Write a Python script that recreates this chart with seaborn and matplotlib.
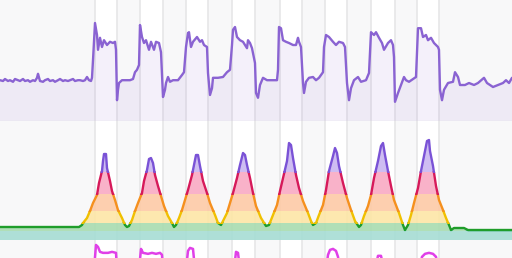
import matplotlib
matplotlib.use("Agg")
import matplotlib.pyplot as plt
import seaborn as sns
import pandas as pd
from matplotlib.patches import Rectangle

# ---------------- data ----------------
# interval (work) periods, in sample units (~8 s each)
work_start = [94.5, 139.5, 186, 232, 279.5, 325, 370.5, 417]
work_end = [116.5, 163, 208, 255, 302, 347, 394.5, 439]
t_end = 512

# power (W)
power_t = [0, 3, 5, 8, 10, 13, 15, 18, 20, 23, 25, 28, 30, 33, 35, 37, 38, 40, 43, 45,
           48, 50, 53, 55, 58, 60, 63, 65, 68, 70, 73, 75, 78, 80, 83, 85, 87, 89, 91, 92,
           93, 95, 97, 98, 100, 102, 104, 107, 110, 113, 115, 116, 117, 118, 119, 122, 126, 130, 133, 135,
           137, 139, 140, 142, 144, 146, 149, 151, 154, 156, 159, 161, 163, 165, 166, 168, 170, 173, 178, 182,
           184, 186, 188, 189, 191, 193, 197, 200, 202, 204, 207, 208, 210, 212, 213, 218, 223, 227, 230, 232,
           233, 235, 237, 240, 243, 247, 248, 250, 252, 255, 256, 258, 260, 263, 267, 272, 277, 278, 279, 281,
           283, 286, 289, 293, 296, 298, 299, 301, 303, 304, 306, 309, 313, 316, 319, 323, 324, 326, 329, 333,
           336, 339, 343, 345, 347, 349, 351, 354, 358, 361, 366, 369, 371, 374, 376, 379, 382, 384, 388, 391,
           393, 394, 395, 398, 401, 404, 406, 409, 413, 416, 418, 421, 423, 426, 428, 431, 434, 438, 439, 440,
           442, 444, 448, 453, 455, 458, 460, 465, 469, 474, 478, 484, 487, 493, 498, 503, 506, 509, 512]
power_w = [102, 100, 105, 100, 102, 98, 105, 102, 100, 105, 100, 102, 98, 102, 100, 108, 118, 100, 98, 102,
           105, 100, 102, 98, 102, 105, 100, 102, 100, 102, 105, 100, 102, 102, 100, 102, 110, 102, 100, 108,
           152, 245, 215, 178, 208, 185, 202, 190, 198, 195, 198, 178, 52, 78, 95, 102, 102, 102, 105, 122,
           128, 140, 240, 210, 195, 202, 178, 198, 178, 198, 195, 172, 60, 78, 95, 110, 98, 102, 102, 115,
           122, 185, 220, 222, 185, 198, 210, 198, 202, 190, 185, 120, 65, 82, 108, 108, 110, 122, 128, 190,
           228, 235, 210, 202, 198, 182, 202, 195, 182, 145, 70, 58, 90, 108, 102, 102, 102, 128, 235, 232,
           202, 198, 195, 190, 190, 208, 198, 185, 95, 70, 98, 108, 110, 102, 108, 122, 185, 215, 210, 198,
           190, 198, 195, 185, 95, 52, 82, 102, 110, 98, 102, 120, 222, 215, 222, 208, 195, 178, 195, 202,
           190, 160, 48, 70, 90, 110, 102, 98, 105, 110, 232, 232, 210, 215, 202, 208, 195, 185, 178, 78,
           52, 78, 95, 98, 122, 110, 90, 90, 95, 90, 95, 108, 95, 85, 90, 95, 102, 95, 108]

# heart rate (bpm)
hr_t = [0, 20, 40, 60, 79, 82, 83, 87, 90, 93, 97, 99, 102, 103, 104, 106, 107, 110, 112, 115,
        118, 122, 125, 127, 129, 132, 135, 138, 142, 144, 147, 149, 151, 153, 155, 158, 161, 164, 168, 172,
        174, 176, 179, 182, 185, 188, 192, 194, 196, 198, 200, 203, 207, 210, 215, 218, 221, 223, 227, 230,
        233, 237, 240, 243, 245, 247, 250, 253, 256, 261, 266, 269, 273, 277, 280, 283, 287, 289, 291, 293,
        296, 299, 303, 308, 311, 313, 316, 319, 323, 326, 329, 333, 335, 337, 339, 343, 347, 351, 355, 359,
        361, 364, 368, 371, 374, 378, 381, 383, 385, 388, 391, 394, 399, 403, 405, 408, 411, 414, 418, 421,
        424, 427, 429, 430, 433, 436, 439, 443, 446, 449, 451, 454, 459, 464, 468, 490, 512]
hr_bpm = [93, 93, 93, 93, 93, 95, 97, 102, 109, 117, 125, 137, 149, 159, 166, 166, 152, 139, 129, 120,
          110, 102, 95, 93, 94, 100, 109, 117, 127, 139, 150, 161, 162, 157, 145, 134, 124, 114, 104, 97,
          93, 95, 102, 110, 120, 130, 145, 155, 165, 165, 154, 139, 127, 117, 105, 97, 95, 99, 107, 117,
          127, 142, 155, 167, 165, 155, 142, 127, 114, 102, 94, 95, 105, 115, 129, 142, 159, 177, 175, 162,
          145, 132, 119, 107, 99, 95, 97, 105, 115, 130, 149, 164, 172, 167, 154, 137, 122, 110, 99, 93,
          95, 104, 114, 125, 142, 159, 174, 177, 165, 149, 134, 120, 107, 95, 90, 95, 105, 117, 132, 149,
          164, 179, 180, 169, 154, 134, 120, 110, 102, 95, 90, 92, 92, 92, 90, 90, 90]

# heart-rate zones (bpm bounds) and colours
zone_bounds = [80, 89, 97, 109, 126, 148, 199]
zone_fill = ["#a6ddd4", "#a8dcb0", "#fde6a6", "#fdcaa6", "#f9aac3", "#c9b6f1"]
zone_line = ["#24b09c", "#1f9d2a", "#f0c000", "#f5901e", "#d6195a", "#7a52d6"]

# cadence (rpm) - bottom panel, only its top is visible
cad_t = [0, 94, 96, 98, 100, 103, 108, 112, 116, 117, 139, 141, 143, 148, 152, 156, 160, 162, 163, 186,
         188, 190, 193, 195, 234, 236, 238, 240, 326, 328, 330, 333, 336, 338, 340, 375, 378, 381, 384, 419,
         422, 425, 429, 433, 436, 438, 512]
cad_rpm = [90, 90, 115, 113, 108, 107, 107, 108, 107, 90, 90, 111, 107, 106, 107, 106, 107, 105, 90, 90,
           109, 112, 111, 90, 90, 108, 107, 90, 90, 105, 110, 111, 109, 103, 90, 90, 104, 104, 90, 90,
           103, 106, 107, 106, 103, 90, 90]

# ---------------- drawing ----------------
sns.set_theme(style="white")
fig = plt.figure(figsize=(5.12, 2.58), dpi=100)
fig.patch.set_facecolor("white")

H = 258.0
ax1 = fig.add_axes([0, 1 - 121 / H, 1, 121 / H])
ax2 = fig.add_axes([0, 1 - 240 / H, 1, 119 / H])
ax3 = fig.add_axes([0, 1 - 240 / H - 0.46, 1, 0.46])

rest_col = "#f8f8f9"
edge_col = "#e6e6e8"

def background(ax):
    ax.set_facecolor("white")
    prev = 0
    for s, e in zip(work_start, work_end):
        ax.axvspan(prev, s, color=rest_col, lw=0, zorder=0)
        prev = e
    ax.axvspan(prev, t_end, color=rest_col, lw=0, zorder=0)
    for s, e in zip(work_start, work_end):
        ax.axvline(s, color=edge_col, lw=1.2, zorder=0.5)
        ax.axvline(e, color=edge_col, lw=1.2, zorder=0.5)
    ax.set_xlim(0, t_end)
    ax.set_xticks([])
    ax.set_yticks([])
    for sp in ax.spines.values():
        sp.set_visible(False)

for ax in (ax1, ax2, ax3):
    background(ax)

# power panel
pdf = pd.DataFrame({"t": power_t, "power": power_w})
ax1.fill_between(pdf["t"], pdf["power"], 0, color="#8a63d2", alpha=0.09, lw=0, zorder=1)
sns.lineplot(data=pdf, x="t", y="power", ax=ax1, color="#8a63d2", lw=1.7, zorder=3)
ax1.set_ylim(0, 302.5)
ax1.set_xlim(0, t_end)
ax1.set_xlabel(""); ax1.set_ylabel("")
ax1.spines["bottom"].set_visible(True)
ax1.spines["bottom"].set_color("#e2e2e6")
ax1.spines["bottom"].set_linewidth(1)

# heart-rate panel
hdf = pd.DataFrame({"t": hr_t, "hr": hr_bpm})
for i in range(len(zone_fill)):
    lo, hi = zone_bounds[i], zone_bounds[i + 1]
    poly = ax2.fill_between(hdf["t"], hdf["hr"], zone_bounds[0], color=zone_fill[i], alpha=0.9, lw=0, zorder=1)
    poly.set_clip_path(Rectangle((0, lo), t_end, hi - lo, transform=ax2.transData))
for i in range(len(zone_line)):
    lo, hi = zone_bounds[i], zone_bounds[i + 1]
    sns.lineplot(data=hdf, x="t", y="hr", ax=ax2, color=zone_line[i], lw=1.7, zorder=3)
    ln = ax2.lines[-1]
    ln.set_clip_path(Rectangle((0, lo - 0.6), t_end, hi - lo + 1.2, transform=ax2.transData))
ax2.set_ylim(80, 199)
ax2.set_xlim(0, t_end)
ax2.set_xlabel(""); ax2.set_ylabel("")

# cadence panel
cdf = pd.DataFrame({"t": cad_t, "cadence": cad_rpm})
sns.lineplot(data=cdf, x="t", y="cadence", ax=ax3, color="#e040e8", lw=1.8, zorder=3)
ax3.set_ylim(0, 120)
ax3.set_xlim(0, t_end)
ax3.set_xlabel(""); ax3.set_ylabel("")

fig.savefig("out.png", dpi=100, facecolor="white")
